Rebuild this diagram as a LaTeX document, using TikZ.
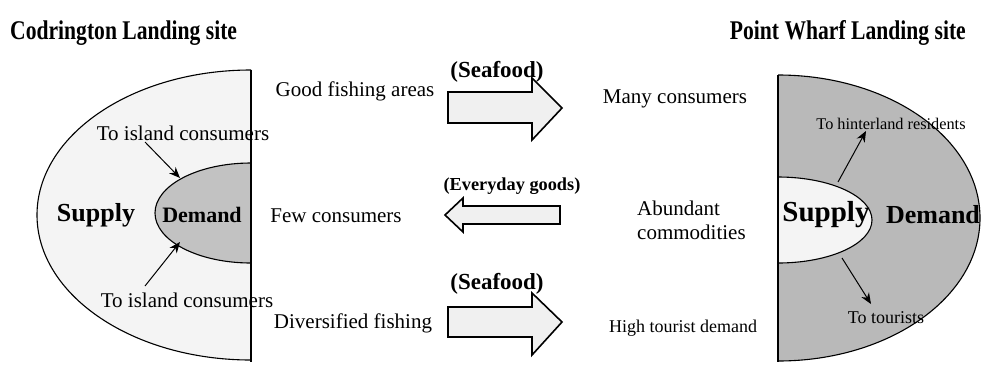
\documentclass[tikz,border=0pt]{standalone}
\usepackage{fontspec}
\setmainfont{Liberation Serif}
\usetikzlibrary{arrows.meta}
\newcommand{\condensed}[1]{\scalebox{0.8}[1]{#1}}
\begin{document}
\begin{tikzpicture}[x=1pt,y=-1pt,
  txt/.style={inner sep=0pt,font=\fontsize{21}{24}\selectfont},
  ttl/.style={inner sep=0pt,font=\fontsize{27}{30}\selectfont\bfseries},
  lbl/.style={inner sep=0pt,font=\fontsize{#1}{#1}\selectfont\bfseries},
  small/.style={inner sep=0pt,font=\fontsize{#1}{#1}\selectfont},
  flow/.style={draw=black,line width=1.6pt,fill=gray!12,line join=miter},
  ptr/.style={-{Stealth[length=11pt,width=9pt]},line width=1pt},
  rim/.style={draw=black,line width=1.1pt},
  axis/.style={line width=1.8pt}]
\useasboundingbox (0,0) rectangle (981,365);

% ---- Codrington: supply area with demand core ----
\fill[gray!9] (251,70) arc[start angle=270,end angle=90,x radius=214,y radius=145] -- cycle;
\draw[rim] (251,70) arc[start angle=270,end angle=90,x radius=214,y radius=145];
\filldraw[rim,fill=gray!48] (251,163) arc[start angle=270,end angle=90,x radius=96,y radius=50];
\draw[axis] (251,70) -- (251,362);

% ---- Point Wharf: demand area around supply core ----
\fill[gray!55] (778,75) arc[start angle=-90,end angle=90,x radius=202,y radius=143] -- cycle;
\draw[rim] (778,75) arc[start angle=-90,end angle=90,x radius=202,y radius=143];
\filldraw[rim,fill=gray!9] (778,177) arc[start angle=-90,end angle=90,x radius=94,y radius=43];
\draw[axis] (778,75) -- (778,362);

% ---- titles ----
\node[ttl,anchor=west] (tl) at (10,33) {\condensed{Codrington Landing site}};
\node[ttl,anchor=east] (tr) at (966,33) {\condensed{Point Wharf Landing site}};

% ---- goods labels (the arrow heads sit over their ends) ----
\node[lbl=23] (sea1) at (497,72) {(Seafood)};
\node[lbl=18.3] (every) at (512,186) {(Everyday goods)};
\node[lbl=23] (sea2) at (497,284) {(Seafood)};

% ---- flow arrows between the sites ----
\draw[flow] (448,92) -- (532,92) -- (532,78) -- (562,108) -- (532,140) -- (532,123) -- (448,123) -- cycle;
\draw[flow] (560,206) -- (463,206) -- (463,198) -- (445,215) -- (463,232) -- (463,224) -- (560,224) -- cycle;
\draw[flow] (448,307) -- (532,307) -- (532,293) -- (562,322) -- (532,355) -- (532,337) -- (448,337) -- cycle;

% ---- middle texts ----
\node[txt] (good) at (355,91) {Good fishing areas};
\node[txt] (few) at (336,216) {Few consumers};
\node[txt] (div) at (353,323) {Diversified fishing};
\node[txt] (many) at (675,99) {Many consumers};
\node[txt,anchor=west,align=left] (abund) at (637,220) {Abundant\\commodities};
\node[small=18] (high) at (683,328) {High tourist demand};

% ---- Codrington labels ----
\node[lbl=26] (supL) at (96,215) {Supply};
\node[lbl=22] (demL) at (202,215) {Demand};
\node[txt] (isl1) at (183,133) {To island consumers};
\node[txt] (isl2) at (187,300) {To island consumers};
\coordinate (d1) at (180,178);
\coordinate (d2) at (180,242);
\draw[ptr] (145,142) -- (d1);
\draw[ptr] (145,286) -- (d2);

% ---- Point Wharf labels ----
\node[lbl=29] (supR) at (826,215) {Supply};
\node[lbl=26] (demR) at (933,215) {Demand};
\node[small=16.3] (hint) at (891,124) {To hinterland residents};
\node[small=18] (tour) at (886,318) {To tourists};
\coordinate (s1) at (838,182);
\coordinate (s2) at (842,258);
\draw[ptr] (s1) -- (866,131);
\draw[ptr] (s2) -- (871,304);
\end{tikzpicture}
\end{document}
